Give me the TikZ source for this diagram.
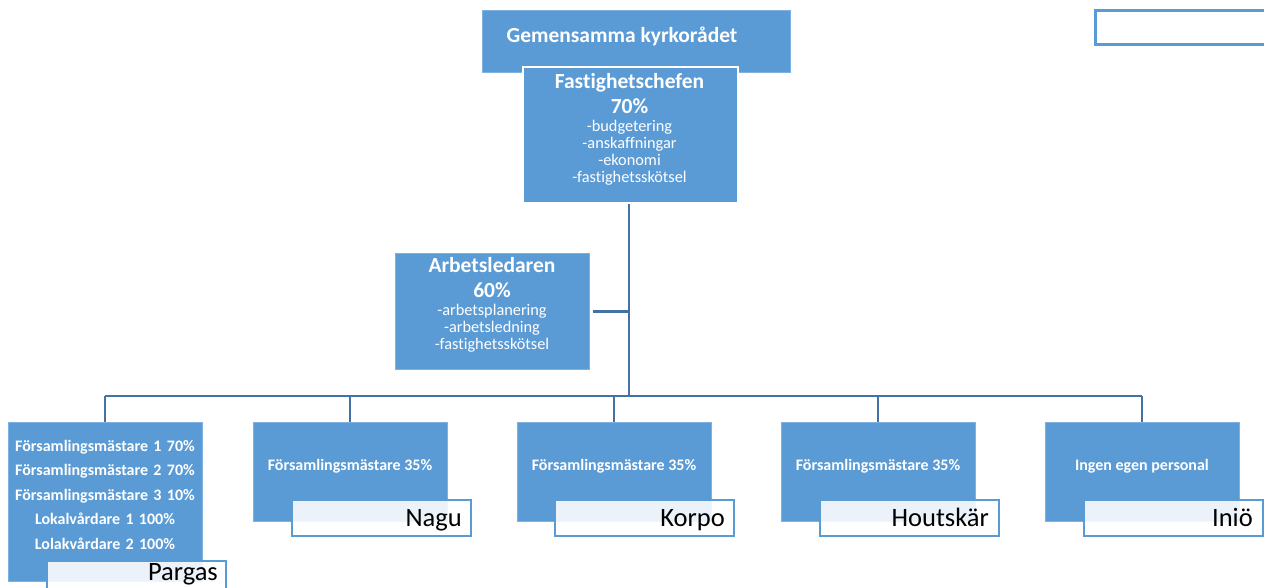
\documentclass[tikz,border=0pt]{standalone}
\usepackage{fontspec}
\setmainfont{Carlito}[Ligatures=CommonOff]
\definecolor{boxblue}{HTML}{5B9BD5}
\definecolor{linkblue}{HTML}{4372A6}
\definecolor{edgeblue}{HTML}{7EB0E0}
\begin{document}
\begin{tikzpicture}[x=1pt,y=-1pt,
  bluebox/.style={fill=boxblue,draw=edgeblue,line width=0.8pt,minimum width=194pt,inner sep=0pt,anchor=north west},
  tagbox/.style={fill=white,fill opacity=0.88,text opacity=1,draw=boxblue,line width=2pt,minimum width=179pt,minimum height=36pt,inner sep=0pt,anchor=north west},
  tagtext/.style={font=\fontsize{26.5}{28}\selectfont,text=black,anchor=base east,inner sep=0pt},
  link/.style={draw=linkblue,line width=2.6pt},
  sublink/.style={draw=linkblue,line width=2pt},
  wtxt/.style={text=white,inner sep=0pt,align=center,anchor=base},
  bigbold/.style={font=\fontsize{21.5}{25}\selectfont\bfseries},
  small/.style={font=\fontsize{16.3}{17}\selectfont},
  staff/.style={wtxt,font=\fontsize{16}{24.5}\selectfont\bfseries}
]
\useasboundingbox (0,0) rectangle (1264,587);

% top right empty box
\node[draw=boxblue,line width=3pt,fill=white,minimum width=200pt,minimum height=34pt,inner sep=0pt,anchor=north west] (legend) at (1094,9) {};

% top box
\node[fill=boxblue,draw=edgeblue,line width=0.6pt,minimum width=308pt,minimum height=62pt,inner sep=0pt,anchor=north west] (board) at (482,10) {};
\node[wtxt,font=\fontsize{21.5}{24}\selectfont\bfseries] (boardt) at (622,42) {Gemensamma kyrkorådet};

% Fastighetschefen
\node[fill=boxblue,draw=white,line width=1.5pt,minimum width=215pt,minimum height=136pt,inner sep=0pt,anchor=north west] (chef) at (522,66) {};
\node[wtxt,bigbold] (cheft1) at (629.5,88) {Fastighetschefen};
\node[wtxt,bigbold] (cheft2) at (629.5,113) {70\%};
\node[wtxt,small,text width=210pt] (cheft3) at (629.5,131) {-budgetering\\-anskaffningar\\-ekonomi\\-fastighetsskötsel};

% Arbetsledaren
\node[bluebox,minimum height=116pt] (led) at (395,253) {};
\node[wtxt,bigbold] (ledt1) at (492,272) {Arbetsledaren};
\node[wtxt,bigbold] (ledt2) at (492,297) {60\%};
\node[wtxt,small,text width=190pt] (ledt3) at (492,315) {-arbetsplanering\\-arbetsledning\\-fastighetsskötsel};

% bottom boxes
\node[bluebox,minimum height=159pt] (pargas) at (8,422) {};
\node[bluebox,minimum height=99pt] (nagu) at (253,422) {};
\node[bluebox,minimum height=99pt] (korpo) at (517,422) {};
\node[bluebox,minimum height=99pt] (hout) at (781,422) {};
\node[bluebox,minimum height=99pt] (inio) at (1045,422) {};

\node[staff,text width=194pt] (pargast) at (105,451) {Församlingsmästare 1 70\%\\Församlingsmästare 2 70\%\\Församlingsmästare 3 10\%\\Lokalvårdare 1 100\%\\Lolakvårdare 2 100\%};
\node[staff] (nagut) at (350,470) {Församlingsmästare 35\%};
\node[staff] (korpot) at (614,470) {Församlingsmästare 35\%};
\node[staff] (houtt) at (878,470) {Församlingsmästare 35\%};
\node[staff] (iniot) at (1142,470) {Ingen egen personal};

% place tags
\node[tagbox] (tpargas) at (46,560) {};
\node[tagbox] (tnagu) at (291,499) {};
\node[tagbox] (tkorpo) at (554,499) {};
\node[tagbox] (thout) at (819,499) {};
\node[tagbox] (tinio) at (1083,499) {};
\node[tagtext] (lpargas) at (218,580) {Pargas};
\node[tagtext] (lnagu) at (462,526) {Nagu};
\node[tagtext] (lkorpo) at (725,526) {Korpo};
\node[tagtext] (lhout) at (989,526) {Houtskär};
\node[tagtext] (linio) at (1253,526) {Iniö};

% connectors
\coordinate (bus) at (629,396);
\draw[link] (chef.south -| bus) -- (bus);
\draw[link] (led.east) ++(3,0) coordinate (ledc) -- (ledc -| bus);
\draw[link] (pargas.north |- bus) -- (inio.north |- bus);
\foreach \b in {pargas,nagu,korpo,hout,inio}
  \draw[sublink] (\b.north |- bus) -- (\b.north);
\end{tikzpicture}
\end{document}
